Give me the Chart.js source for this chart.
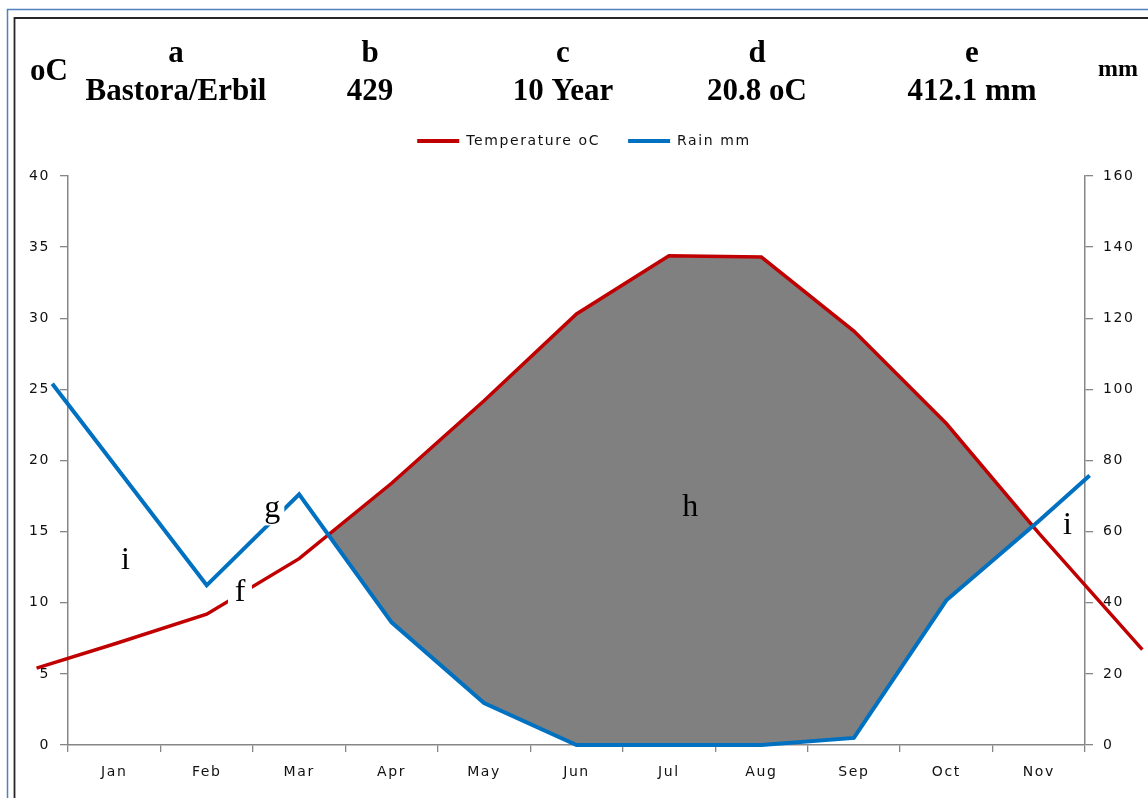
<!DOCTYPE html>
<html>
<head>
<meta charset="utf-8">
<title>Bastora/Erbil climate diagram</title>
<script src="https://cdn.jsdelivr.net/npm/chart.js@4.4.1/dist/chart.umd.min.js"></script>
<style>
  html, body { margin: 0; padding: 0; background: #ffffff; }
  canvas { display: block; }
</style>
</head>
<body>
<canvas id="climate" width="1148" height="798"></canvas>
<script>
// Month categories shown on the horizontal axis
const months = ['Jan', 'Feb', 'Mar', 'Apr', 'May', 'Jun', 'Jul', 'Aug', 'Sep', 'Oct', 'Nov'];

// Temperature line: position in months (0 = Jan) and value in oC.
// The first and last entries are the lead-in / lead-out ends of the line.
const tempPos = [-0.84, 0, 1, 2, 3, 4, 5, 6, 7, 8, 9, 10, 11.12];
const tempC   = [5.4, 7.1, 9.2, 13.1, 18.4, 24.2, 30.3, 34.4, 34.3, 29.1, 22.6, 14.9, 6.7];

// Rain line: position in months (0 = Jan) and value in mm
const rainPos = [-0.67, 0, 1, 2, 3, 4, 5, 6, 7, 8, 9, 10, 10.55];
const rainMm  = [101.6, 78.9, 44.9, 70.5, 34.5, 11.8, 0, 0, 0, 2.0, 40.7, 63.0, 75.8];

// Axis tick ranges
const tempTicks = { min: 0, max: 40, step: 5 };
const rainTicks = { min: 0, max: 160, step: 20 };

// Station header: keys and values
const headerKeys   = ['a', 'b', 'c', 'd', 'e'];
const headerValues = ['Bastora/Erbil', '429', '10 Year', '20.8 oC', '412.1 mm'];
const headerX      = [176, 370, 563, 757, 972];

// Letters placed on the diagram (month position, temperature value at the baseline)
const marks = [
  { text: 'i', pos: 0.12,  temp: 12.4, knockout: false },
  { text: 'f', pos: 1.36,  temp: 10.1, knockout: true },
  { text: 'g', pos: 1.71,  temp: 16.0, knockout: true },
  { text: 'h', pos: 6.23,  temp: 16.1, knockout: false },
  { text: 'i', pos: 10.31, temp: 14.8, knockout: false }
];

const axisGrey = '#868686';
const textDark = '#111111';
const sansFont = 'DejaVu Sans';
const serifFont = 'Liberation Serif';
const sansSize = 14;

// Wide-set sans text for ticks and legend
const letterSpacing = {
  id: 'letterSpacing',
  beforeUpdate(chart) { chart.ctx.letterSpacing = '1.6px'; },
  beforeDraw(chart) { chart.ctx.letterSpacing = '1.6px'; }
};

// Extra room under the legend, and the legend nudged right
const legendRoom = {
  id: 'legendRoom',
  beforeLayout(chart) {
    const lg = chart.legend;
    if (lg && !lg._roomAdded) {
      const fit = lg.fit.bind(lg);
      lg.fit = function () { fit(); this.height += 18; };
      lg._roomAdded = true;
    }
  },
  afterLayout(chart) {
    const lg = chart.legend;
    if (lg) { lg.left += 10; lg.right += 10; }
  }
};

// Letters on the diagram, with white knockouts where they sit on a line
const letters = {
  id: 'letters',
  afterDatasetsDraw(chart) {
    const ctx = chart.ctx;
    const xs = chart.scales.xl, ys = chart.scales.y;
    ctx.save();
    ctx.letterSpacing = '0px';
    ctx.font = '32px "' + serifFont + '"';
    ctx.textAlign = 'center';
    ctx.textBaseline = 'alphabetic';
    marks.forEach(m => {
      const px = xs.getPixelForValue(m.pos);
      const py = ys.getPixelForValue(m.temp);
      if (m.knockout) {
        ctx.fillStyle = '#ffffff';
        ctx.fillRect(px - 12, py - 24, 24, 32);
      }
      ctx.fillStyle = '#000000';
      ctx.fillText(m.text, px, py);
    });
    ctx.restore();
  }
};

// Frame and station header
const header = {
  id: 'header',
  afterDraw(chart) {
    const ctx = chart.ctx;
    ctx.save();
    ctx.letterSpacing = '0px';

    ctx.strokeStyle = '#4f81bd';
    ctx.lineWidth = 1.5;
    ctx.beginPath();
    ctx.moveTo(7.5, 800); ctx.lineTo(7.5, 9.5); ctx.lineTo(1150, 9.5);
    ctx.stroke();

    ctx.strokeStyle = '#262626';
    ctx.lineWidth = 1.8;
    ctx.beginPath();
    ctx.moveTo(14.5, 800); ctx.lineTo(14.5, 18); ctx.lineTo(1150, 18);
    ctx.stroke();

    ctx.fillStyle = '#000000';
    ctx.textAlign = 'center';
    ctx.textBaseline = 'alphabetic';
    ctx.font = 'bold 31px "' + serifFont + '"';
    headerKeys.forEach((k, i) => ctx.fillText(k, headerX[i], 62));
    headerValues.forEach((v, i) => ctx.fillText(v, headerX[i], 100));
    ctx.fillText('oC', 49, 80);
    ctx.font = 'bold 24px "' + serifFont + '"';
    ctx.fillText('mm', 1118, 76);
    ctx.restore();
  }
};

const points = (pos, vals) => pos.map((p, i) => ({ x: p, y: vals[i] }));

new Chart(document.getElementById('climate'), {
  type: 'line',
  data: {
    labels: months,
    datasets: [
      {
        label: 'Rain mm',
        data: points(rainPos, rainMm),
        xAxisID: 'xl',
        yAxisID: 'y2',
        borderColor: '#0070c0',
        backgroundColor: '#0070c0',
        borderWidth: 4,
        pointRadius: 0,
        tension: 0,
        clip: false,
        fill: false
      },
      {
        label: 'Temperature oC',
        data: points(tempPos, tempC),
        xAxisID: 'xl',
        yAxisID: 'y',
        borderColor: '#c00000',
        backgroundColor: '#808080',
        borderWidth: 3.5,
        pointRadius: 0,
        tension: 0,
        clip: false,
        fill: { target: 0, above: '#808080', below: 'rgba(0,0,0,0)' }
      }
    ]
  },
  options: {
    responsive: false,
    animation: false,
    devicePixelRatio: 1,
    events: [],
    layout: { padding: { top: 106, left: 0, right: 0, bottom: 0 } },
    plugins: {
      tooltip: { enabled: false },
      legend: {
        position: 'top',
        reverse: true,
        labels: {
          boxWidth: 42,
          boxHeight: 4,
          padding: 28,
          color: textDark,
          font: { family: sansFont, size: sansSize },
          generateLabels(chart) {
            const items = Chart.defaults.plugins.legend.labels.generateLabels(chart);
            items.forEach(it => {
              const ds = chart.data.datasets[it.datasetIndex];
              it.fillStyle = ds.borderColor;
              it.strokeStyle = ds.borderColor;
              it.lineWidth = 0;
            });
            return items;
          }
        }
      }
    },
    scales: {
      x: {
        type: 'category',
        offset: true,
        grid: { offset: true, drawOnChartArea: false, tickLength: 7, color: axisGrey, lineWidth: 1.3 },
        border: { color: axisGrey, width: 1.5 },
        ticks: { color: textDark, padding: 12, font: { family: sansFont, size: sansSize }, maxRotation: 0 },
        afterFit(scale) { scale.height = 53; }
      },
      xl: {
        type: 'linear',
        display: false,
        min: -0.5,
        max: months.length - 0.5
      },
      y: {
        position: 'left',
        min: tempTicks.min,
        max: tempTicks.max,
        ticks: { stepSize: tempTicks.step, color: textDark, padding: 10, font: { family: sansFont, size: sansSize } },
        grid: { drawOnChartArea: false, tickLength: 8, color: axisGrey, lineWidth: 1.3 },
        border: { color: axisGrey, width: 1.5 },
        afterFit(scale) { scale.width = 68; }
      },
      y2: {
        position: 'right',
        min: rainTicks.min,
        max: rainTicks.max,
        ticks: { stepSize: rainTicks.step, color: textDark, padding: 10, font: { family: sansFont, size: sansSize } },
        grid: { drawOnChartArea: false, tickLength: 8, color: axisGrey, lineWidth: 1.3 },
        border: { color: axisGrey, width: 1.5 },
        afterFit(scale) { scale.width = 63; }
      }
    }
  },
  plugins: [letterSpacing, legendRoom, letters, header]
});
</script>
</body>
</html>
